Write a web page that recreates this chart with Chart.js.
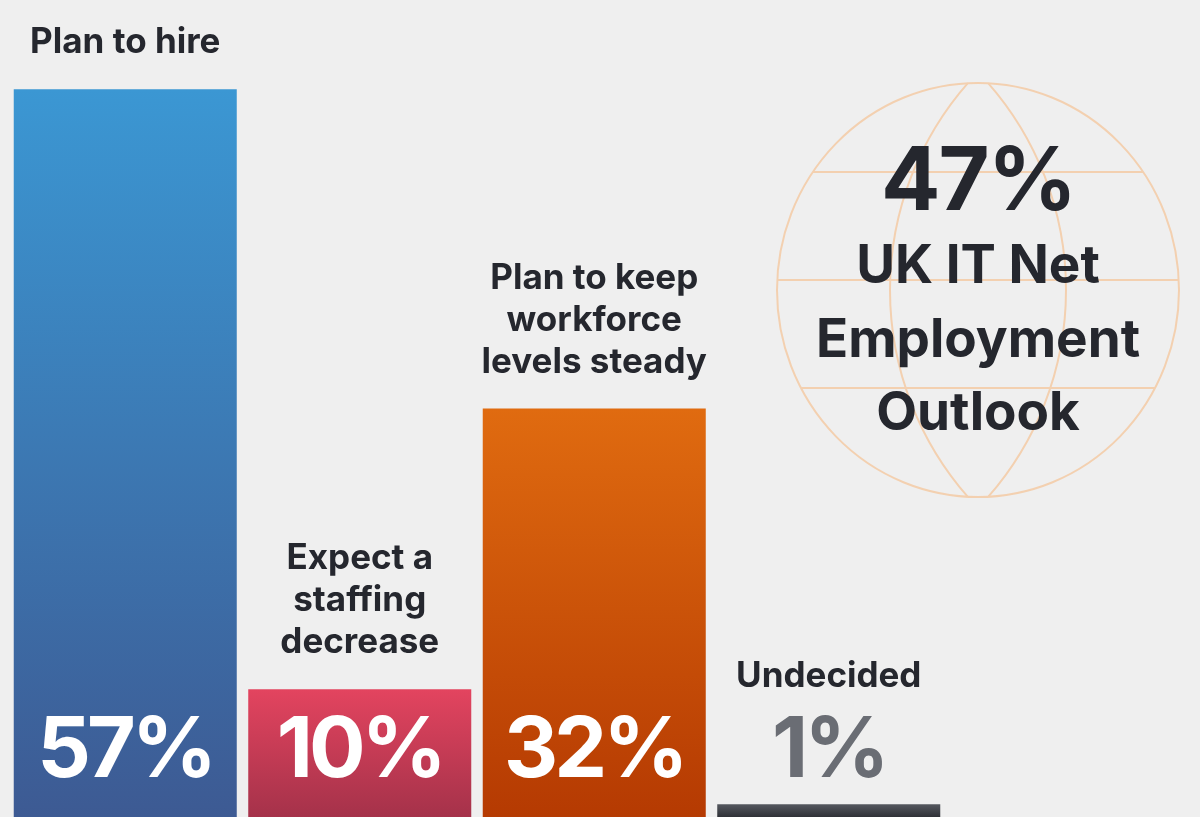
<!DOCTYPE html>
<html>
<head>
<meta charset="utf-8">
<script src="https://cdn.jsdelivr.net/npm/chart.js@4.4.1/dist/chart.umd.min.js"></script>
<style>
  html, body { margin: 0; padding: 0; background: #efefef; }
  #wrap { width: 1200px; height: 817px; position: relative; }
</style>
</head>
<body>
<div id="wrap"><canvas id="hireChart"></canvas></div>
<script>
// Data
const categories = [
    ["Plan to hire"],
    ["Expect a", "staffing", "decrease"],
    ["Plan to keep", "workforce", "levels steady"],
    ["Undecided"]
];
const shares = [57, 10, 32, 1];
const valueLabels = ["57%", "10%", "32%", "1%"];

const outlookValue = "47%";
const outlookLines = ["UK IT Net", "Employment", "Outlook"];

// gradient stops per bar (top, bottom)
const barTops = ["#3b97d3", "#e3445f", "#e06b10", "#55585f"];
const barBottoms = ["#3d5a93", "#a5324a", "#b53a02", "#2f3137"];

const FONT = "Inter, 'Noto Sans', sans-serif";
const DARK = "#25272e";

// Globe + headline on the right
const globePlugin = {
    id: "globe",
    beforeDatasetsDraw(chart) {
        const ctx = chart.ctx;
        const cx = 978, cy = 290, rx = 201, ry = 207;

        ctx.save();
        ctx.strokeStyle = "#f3d0b0";
        ctx.lineWidth = 2;

        ctx.beginPath();
        ctx.ellipse(cx, cy, rx, ry, 0, 0, Math.PI * 2);
        ctx.stroke();

        // latitude lines, clipped to the globe
        ctx.save();
        ctx.beginPath();
        ctx.ellipse(cx, cy, rx, ry, 0, 0, Math.PI * 2);
        ctx.clip();
        [172, 280, 388].forEach(y => {
            ctx.beginPath();
            ctx.moveTo(cx - rx - 2, y);
            ctx.lineTo(cx + rx + 2, y);
            ctx.stroke();
        });
        ctx.restore();

        // meridian lens
        const R = 313.7, a = 0.72;
        ctx.beginPath();
        ctx.arc(1203.7, cy, R, Math.PI - a, Math.PI + a);
        ctx.stroke();
        ctx.beginPath();
        ctx.arc(752.3, cy, R, -a, a);
        ctx.stroke();

        // headline text
        ctx.fillStyle = DARK;
        ctx.textAlign = "center";
        ctx.textBaseline = "alphabetic";
        ctx.font = "700 88px " + FONT;
        ctx.letterSpacing = "-2px";
        ctx.fillText(outlookValue, cx, 210);
        ctx.font = "700 53px " + FONT;
        ctx.letterSpacing = "0px";
        outlookLines.forEach((line, i) => {
            ctx.fillText(line, cx, 283 + i * 73.5);
        });
        ctx.restore();
    }
};

// Category and value labels
const labelPlugin = {
    id: "barLabels",
    afterDatasetsDraw(chart) {
        const ctx = chart.ctx;
        const meta = chart.getDatasetMeta(0);
        const valueBase = chart.chartArea.bottom - 40;

        ctx.save();
        ctx.textAlign = "center";
        ctx.textBaseline = "alphabetic";

        meta.data.forEach((bar, i) => {
            const inside = bar.y < valueBase - 80;

            ctx.font = "700 84px " + FONT;
            ctx.letterSpacing = "-4px";
            ctx.fillStyle = inside ? "#ffffff" : "#6a6d74";
            ctx.fillText(valueLabels[i], bar.x, valueBase);

            const lines = categories[i];
            let last = inside ? bar.y - 36 : valueBase - 90;
            ctx.font = "700 35px " + FONT;
            ctx.letterSpacing = "0px";
            ctx.fillStyle = DARK;
            lines.forEach((line, k) => {
                const y = last - (lines.length - 1 - k) * 42;
                ctx.fillText(line, bar.x, y);
            });
        });
        ctx.restore();
    }
};

const barGradient = (context) => {
    const chart = context.chart;
    const area = chart.chartArea;
    if (!area) return barTops[context.dataIndex];
    const i = context.dataIndex;
    const top = chart.scales.y.getPixelForValue(shares[i]);
    const g = chart.ctx.createLinearGradient(0, top, 0, area.bottom);
    g.addColorStop(0, barTops[i]);
    g.addColorStop(1, barBottoms[i]);
    return g;
};

new Chart(document.getElementById("hireChart"), {
    type: "bar",
    data: {
        labels: categories,
        datasets: [{
            data: shares,
            backgroundColor: barGradient,
            borderWidth: 0,
            categoryPercentage: 1,
            barPercentage: 0.951
        }]
    },
    options: {
        responsive: true,
        maintainAspectRatio: false,
        animation: false,
        layout: {
            padding: { left: 8, right: 254, top: 0, bottom: 0 }
        },
        scales: {
            x: { display: false },
            y: { display: false, min: 0, max: 64 }
        },
        plugins: {
            legend: { display: false },
            tooltip: { enabled: false }
        }
    },
    plugins: [globePlugin, labelPlugin]
});
</script>
</body>
</html>
